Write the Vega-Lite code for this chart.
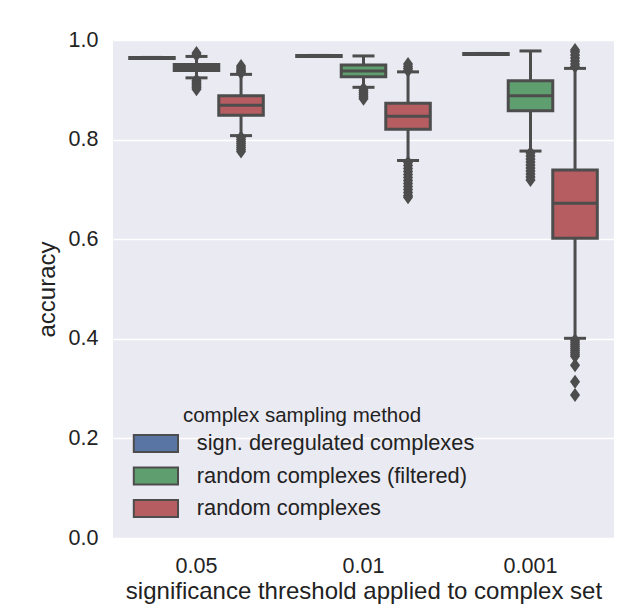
{
  "$schema": "https://vega.github.io/schema/vega-lite/v6.json",
  "width": 501,
  "height": 498,
  "autosize": {"type": "none"},
  "padding": {"left": 113, "top": 40, "right": 23, "bottom": 67},
  "background": "white",
  "config": {
    "font": "Liberation Sans",
    "view": {"fill": "#EAEAF2", "stroke": null},
    "axis": {"labelColor": "#222222", "titleColor": "#222222", "titleFontWeight": "normal", "domain": false, "ticks": false}
  },
  "datasets": {
    "summary": [
      {"threshold": "0.05", "method": "sign. deregulated complexes", "lower": 0.963, "q1": 0.963, "median": 0.964, "q3": 0.965, "upper": 0.965},
      {"threshold": "0.05", "method": "random complexes (filtered)", "lower": 0.924, "q1": 0.939, "median": 0.945, "q3": 0.951, "upper": 0.967},
      {"threshold": "0.05", "method": "random complexes", "lower": 0.808, "q1": 0.849, "median": 0.869, "q3": 0.888, "upper": 0.931},
      {"threshold": "0.01", "method": "sign. deregulated complexes", "lower": 0.967, "q1": 0.967, "median": 0.968, "q3": 0.969, "upper": 0.969},
      {"threshold": "0.01", "method": "random complexes (filtered)", "lower": 0.905, "q1": 0.926, "median": 0.938, "q3": 0.950, "upper": 0.968},
      {"threshold": "0.01", "method": "random complexes", "lower": 0.758, "q1": 0.821, "median": 0.847, "q3": 0.873, "upper": 0.936},
      {"threshold": "0.001", "method": "sign. deregulated complexes", "lower": 0.971, "q1": 0.971, "median": 0.972, "q3": 0.973, "upper": 0.973},
      {"threshold": "0.001", "method": "random complexes (filtered)", "lower": 0.777, "q1": 0.858, "median": 0.888, "q3": 0.918, "upper": 0.978},
      {"threshold": "0.001", "method": "random complexes", "lower": 0.401, "q1": 0.602, "median": 0.672, "q3": 0.739, "upper": 0.943}
    ],
    "outliers": [
      {"threshold": "0.05", "method": "random complexes (filtered)", "accuracy": 0.970},
      {"threshold": "0.05", "method": "random complexes (filtered)", "accuracy": 0.974},
      {"threshold": "0.05", "method": "random complexes (filtered)", "accuracy": 0.919},
      {"threshold": "0.05", "method": "random complexes (filtered)", "accuracy": 0.916},
      {"threshold": "0.05", "method": "random complexes (filtered)", "accuracy": 0.913},
      {"threshold": "0.05", "method": "random complexes (filtered)", "accuracy": 0.910},
      {"threshold": "0.05", "method": "random complexes (filtered)", "accuracy": 0.907},
      {"threshold": "0.05", "method": "random complexes (filtered)", "accuracy": 0.904},
      {"threshold": "0.05", "method": "random complexes (filtered)", "accuracy": 0.901},
      {"threshold": "0.05", "method": "random complexes", "accuracy": 0.934},
      {"threshold": "0.05", "method": "random complexes", "accuracy": 0.937},
      {"threshold": "0.05", "method": "random complexes", "accuracy": 0.940},
      {"threshold": "0.05", "method": "random complexes", "accuracy": 0.944},
      {"threshold": "0.05", "method": "random complexes", "accuracy": 0.948},
      {"threshold": "0.05", "method": "random complexes", "accuracy": 0.804},
      {"threshold": "0.05", "method": "random complexes", "accuracy": 0.800},
      {"threshold": "0.05", "method": "random complexes", "accuracy": 0.796},
      {"threshold": "0.05", "method": "random complexes", "accuracy": 0.792},
      {"threshold": "0.05", "method": "random complexes", "accuracy": 0.788},
      {"threshold": "0.05", "method": "random complexes", "accuracy": 0.784},
      {"threshold": "0.05", "method": "random complexes", "accuracy": 0.780},
      {"threshold": "0.05", "method": "random complexes", "accuracy": 0.776},
      {"threshold": "0.01", "method": "random complexes (filtered)", "accuracy": 0.902},
      {"threshold": "0.01", "method": "random complexes (filtered)", "accuracy": 0.898},
      {"threshold": "0.01", "method": "random complexes (filtered)", "accuracy": 0.894},
      {"threshold": "0.01", "method": "random complexes (filtered)", "accuracy": 0.890},
      {"threshold": "0.01", "method": "random complexes (filtered)", "accuracy": 0.886},
      {"threshold": "0.01", "method": "random complexes (filtered)", "accuracy": 0.882},
      {"threshold": "0.01", "method": "random complexes", "accuracy": 0.939},
      {"threshold": "0.01", "method": "random complexes", "accuracy": 0.943},
      {"threshold": "0.01", "method": "random complexes", "accuracy": 0.947},
      {"threshold": "0.01", "method": "random complexes", "accuracy": 0.952},
      {"threshold": "0.01", "method": "random complexes", "accuracy": 0.754},
      {"threshold": "0.01", "method": "random complexes", "accuracy": 0.748},
      {"threshold": "0.01", "method": "random complexes", "accuracy": 0.742},
      {"threshold": "0.01", "method": "random complexes", "accuracy": 0.736},
      {"threshold": "0.01", "method": "random complexes", "accuracy": 0.730},
      {"threshold": "0.01", "method": "random complexes", "accuracy": 0.724},
      {"threshold": "0.01", "method": "random complexes", "accuracy": 0.718},
      {"threshold": "0.01", "method": "random complexes", "accuracy": 0.712},
      {"threshold": "0.01", "method": "random complexes", "accuracy": 0.706},
      {"threshold": "0.01", "method": "random complexes", "accuracy": 0.700},
      {"threshold": "0.01", "method": "random complexes", "accuracy": 0.694},
      {"threshold": "0.01", "method": "random complexes", "accuracy": 0.688},
      {"threshold": "0.01", "method": "random complexes", "accuracy": 0.684},
      {"threshold": "0.001", "method": "random complexes (filtered)", "accuracy": 0.773},
      {"threshold": "0.001", "method": "random complexes (filtered)", "accuracy": 0.767},
      {"threshold": "0.001", "method": "random complexes (filtered)", "accuracy": 0.761},
      {"threshold": "0.001", "method": "random complexes (filtered)", "accuracy": 0.755},
      {"threshold": "0.001", "method": "random complexes (filtered)", "accuracy": 0.749},
      {"threshold": "0.001", "method": "random complexes (filtered)", "accuracy": 0.743},
      {"threshold": "0.001", "method": "random complexes (filtered)", "accuracy": 0.737},
      {"threshold": "0.001", "method": "random complexes (filtered)", "accuracy": 0.731},
      {"threshold": "0.001", "method": "random complexes (filtered)", "accuracy": 0.725},
      {"threshold": "0.001", "method": "random complexes (filtered)", "accuracy": 0.719},
      {"threshold": "0.001", "method": "random complexes", "accuracy": 0.947},
      {"threshold": "0.001", "method": "random complexes", "accuracy": 0.952},
      {"threshold": "0.001", "method": "random complexes", "accuracy": 0.958},
      {"threshold": "0.001", "method": "random complexes", "accuracy": 0.964},
      {"threshold": "0.001", "method": "random complexes", "accuracy": 0.970},
      {"threshold": "0.001", "method": "random complexes", "accuracy": 0.976},
      {"threshold": "0.001", "method": "random complexes", "accuracy": 0.980},
      {"threshold": "0.001", "method": "random complexes", "accuracy": 0.397},
      {"threshold": "0.001", "method": "random complexes", "accuracy": 0.393},
      {"threshold": "0.001", "method": "random complexes", "accuracy": 0.389},
      {"threshold": "0.001", "method": "random complexes", "accuracy": 0.385},
      {"threshold": "0.001", "method": "random complexes", "accuracy": 0.381},
      {"threshold": "0.001", "method": "random complexes", "accuracy": 0.377},
      {"threshold": "0.001", "method": "random complexes", "accuracy": 0.373},
      {"threshold": "0.001", "method": "random complexes", "accuracy": 0.369},
      {"threshold": "0.001", "method": "random complexes", "accuracy": 0.365},
      {"threshold": "0.001", "method": "random complexes", "accuracy": 0.347},
      {"threshold": "0.001", "method": "random complexes", "accuracy": 0.314},
      {"threshold": "0.001", "method": "random complexes", "accuracy": 0.287}
    ]
  },
  "encoding": {
    "x": {
      "field": "threshold", "type": "nominal",
      "scale": {"domain": ["0.05", "0.01", "0.001"], "paddingInner": 0.2, "paddingOuter": 0.1},
      "axis": {"title": "significance threshold applied to complex set", "labelAngle": 0, "labelFontSize": 21.5, "labelPadding": 17, "titleFontSize": 24, "titlePadding": 3, "grid": false}
    },
    "xOffset": {
      "field": "method", "type": "nominal",
      "scale": {"domain": ["sign. deregulated complexes", "random complexes (filtered)", "random complexes"], "paddingInner": 0, "paddingOuter": 0}
    }
  },
  "layer": [
    {
      "data": {"name": "summary"},
      "mark": {"type": "rule", "color": "#4d4d4d", "strokeWidth": 3},
      "encoding": {
        "y": {"field": "lower", "type": "quantitative", "scale": {"domain": [0, 1]},
          "axis": {"title": "accuracy", "values": [0, 0.2, 0.4, 0.6, 0.8, 1.0], "format": ".1f", "labelFontSize": 21.5, "labelPadding": 15, "titleFontSize": 24, "titlePadding": 9, "grid": true, "gridColor": "white", "gridWidth": 1.6}},
        "y2": {"field": "q1"}
      }
    },
    {
      "data": {"name": "summary"},
      "mark": {"type": "rule", "color": "#4d4d4d", "strokeWidth": 3},
      "encoding": {
        "y": {"field": "q3", "type": "quantitative"},
        "y2": {"field": "upper"}
      }
    },
    {
      "data": {"name": "summary"},
      "mark": {"type": "tick", "color": "#4d4d4d", "thickness": 3, "size": 22, "opacity": 1, "strokeCap": "round"},
      "encoding": {"y": {"field": "lower", "type": "quantitative"}}
    },
    {
      "data": {"name": "summary"},
      "mark": {"type": "tick", "color": "#4d4d4d", "thickness": 3, "size": 22, "opacity": 1, "strokeCap": "round"},
      "encoding": {"y": {"field": "upper", "type": "quantitative"}}
    },
    {
      "data": {"name": "summary"},
      "mark": {"type": "bar", "stroke": "#4d4d4d", "strokeWidth": 3, "opacity": 1},
      "encoding": {
        "y": {"field": "q1", "type": "quantitative"},
        "y2": {"field": "q3"},
        "color": {
          "field": "method", "type": "nominal",
          "scale": {"domain": ["sign. deregulated complexes", "random complexes (filtered)", "random complexes"], "range": ["#5875a4", "#5f9e6e", "#b55d60"]},
          "legend": {
            "title": "complex sampling method",
            "orient": "bottom-left",
            "offset": 17,
            "titleFontSize": 20.5,
            "titleFontWeight": "normal",
            "titleColor": "#222222",
            "titleAnchor": "middle",
            "titlePadding": 6,
            "titleLimit": 0,
            "labelFontSize": 21.8,
            "labelColor": "#222222",
            "labelOffset": 30,
            "labelLimit": 0,
            "rowPadding": 6.5,
            "symbolType": "M-2.6,-1H2.6V1H-2.6Z",
            "symbolSize": 289,
            "symbolOffset": 15,
            "symbolStrokeColor": "#4d4d4d",
            "symbolStrokeWidth": 2,
            "symbolOpacity": 1
          }
        }
      }
    },
    {
      "data": {"name": "summary"},
      "mark": {"type": "tick", "color": "#4d4d4d", "thickness": 3, "size": 44, "opacity": 1},
      "encoding": {"y": {"field": "median", "type": "quantitative"}}
    },
    {
      "data": {"name": "outliers"},
      "mark": {"type": "point", "shape": "M0,-1L0.72,0L0,1L-0.72,0Z", "size": 196, "filled": true, "color": "#4d4d4d", "opacity": 1, "strokeWidth": 0},
      "encoding": {"y": {"field": "accuracy", "type": "quantitative"}}
    }
  ]
}
